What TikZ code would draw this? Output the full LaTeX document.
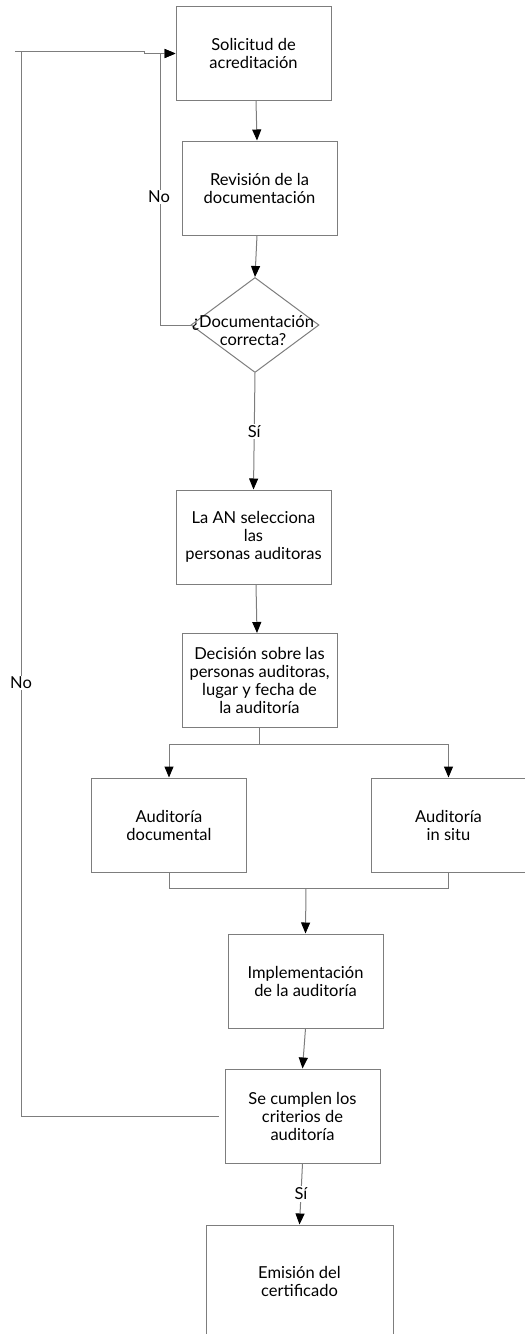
\documentclass[tikz,border=0pt]{standalone}
\usepackage{fontspec}
\setmainfont{Lato}
\usetikzlibrary{arrows.meta,shapes.geometric,calc}
\definecolor{edge}{RGB}{125,125,125}
\begin{document}
\begin{tikzpicture}[x=1pt,y=-1pt,
  every node/.style={font=\fontsize{16.5}{18}\selectfont},
  box/.style={draw=edge,line width=1pt,rectangle,minimum width=155pt,minimum height=94pt,align=center,inner sep=0pt},
  dia/.style={draw=edge,line width=1pt,diamond,minimum width=128pt,minimum height=95pt,inner sep=0pt},
  conn/.style={draw=edge,line width=1pt},
  arr/.style={conn,-{Triangle[length=11pt,width=9pt,color=black]}},
  lbl/.style={fill=white,inner sep=1.5pt}]
\useasboundingbox (0,0) rectangle (525,1334);
\clip (0,0) rectangle (525,1334);
\node[box] (b1) at (253.5,53.5) {Solicitud de\\acreditación};
\node[box] (b2) at (259.5,188) {Revisión de la\\documentación};
\node[dia] (d) at (255,325) {};
\node[align=center,inner sep=0pt] (dt) at (253,331) {¿Documentación\\correcta?};
\node[box] (b3) at (253.5,537) {La AN selecciona\\las\\personas auditoras};
\node[box] (b4) at (259.5,680.5) {Decisión sobre las\\personas auditoras,\\lugar y fecha de\\la auditoría};
\node[box] (b5) at (169,825) {Auditoría\\documental};
\node[box] (b6) at (448.5,825) {Auditoría\\in situ};
\node[box] (b7) at (305.5,981) {Implementación\\de la auditoría};
\node[box] (b8) at (302.5,1116) {Se cumplen los\\criterios de\\auditoría};
\node[box,minimum width=187pt,minimum height=112pt] (b9) at (299.5,1281) {Emisión del\\certificado};
% main flow
\draw[arr] ([xshift=2.5pt]b1.south) -- ([xshift=-2.5pt]b2.north);
\draw[arr] ([xshift=-2.5pt]b2.south) -- (d.north);
\draw[arr] (d.south) -- node[lbl] (si1) {Sí} (b3.north);
\draw[arr] ([xshift=2.5pt]b3.south) -- ([xshift=-2.5pt]b4.north);
\coordinate (sp) at ($(b4.south)+(0,16)$);
\draw[conn] (b4.south) -- (sp);
\draw[arr] (sp) -| (b5.north);
\draw[arr] (sp) -| (b6.north);
\coordinate (mg) at (306,888);
\draw[conn] (b5.south) |- (mg) -| (b6.south);
\draw[arr] (mg) -- (b7.north);
\draw[arr] (b7.south) -- (b8.north);
\draw[arr] (b8.south) -- node[lbl] (si2) {Sí} (b9.north);
% No loop 1
\coordinate (n1) at (160,325);
\draw[arr] (d.west) -- (n1) |- (b1.west);
\node[lbl] (no1) at (159,197) {No};
% No loop 2
\coordinate (o1) at (21,1116);
\coordinate (o2) at (21,51);
\coordinate (o3) at (15,51);
\coordinate (o4) at (144,51);
\coordinate (o5) at (144,53.5);
\draw[conn] ([xshift=-6pt]b8.west) -- (o1) -- (o2);
\draw[arr] (o3) -- (o4) -- (o5) -- (b1.west);
\node[lbl] (no2) at (21,683) {No};
\end{tikzpicture}
\end{document}
